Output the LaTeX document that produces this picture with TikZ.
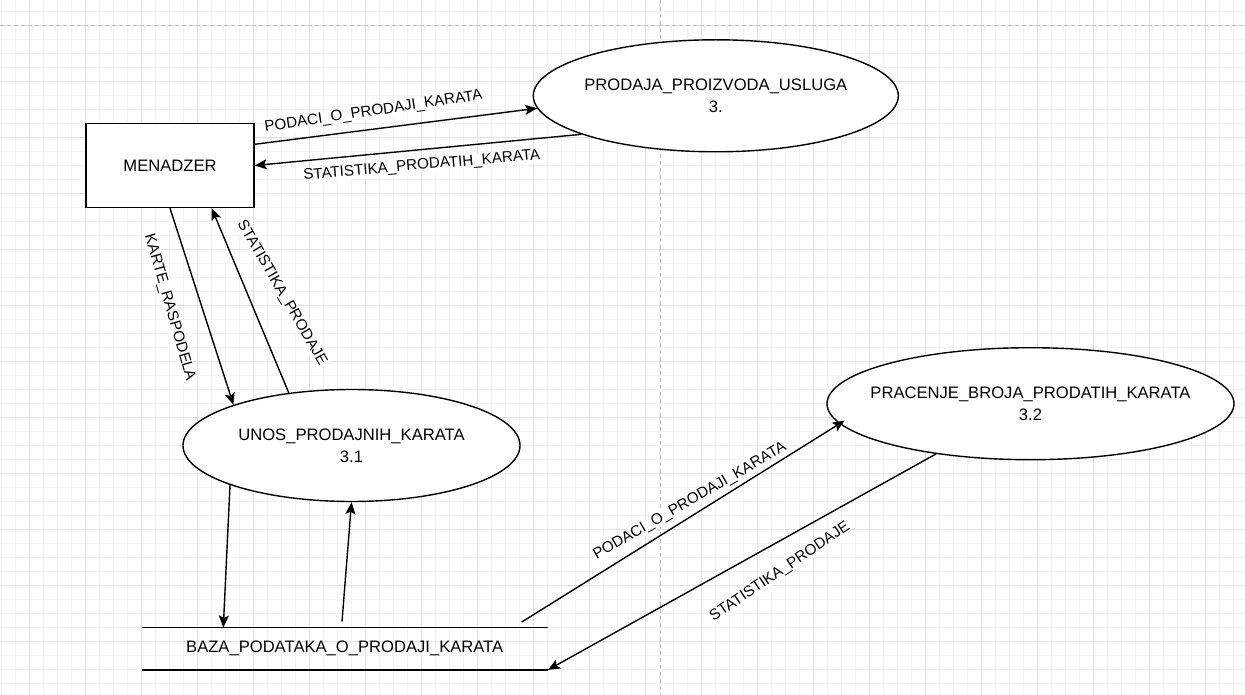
\documentclass[tikz,border=0pt]{standalone}
\usepackage{fontspec}
\setmainfont{Liberation Sans}
\usetikzlibrary{shapes.geometric,arrows.meta}
\definecolor{majorgrid}{HTML}{E0E0E0}
\definecolor{minorgrid}{HTML}{F3F3F3}
\definecolor{pagedash}{HTML}{BDBDBD}
\newcommand{\nodefont}{\fontsize{16.6}{21.7}\selectfont}
\newcommand{\edgefont}{\fontsize{15.2}{18}\selectfont}
\begin{document}
\begin{tikzpicture}[x=1pt,y=-1pt,
  proc/.style={draw, line width=1.4pt, ellipse, inner sep=0pt, minimum width=#1, minimum height=112pt, fill=white},
  ptext/.style={align=center, font=\nodefont, inner sep=0pt},
  flow/.style={line width=1.4pt, -{Stealth[length=12pt,width=10pt,inset=2.5pt]}},
  elabel/.style={font=\edgefont, fill=white, inner sep=0.5pt},
  minorline/.style={draw=minorgrid, line width=1pt},
  majorline/.style={draw=majorgrid, line width=1pt},
  pageline/.style={draw=pagedash, line width=1pt, dash pattern=on 4pt off 3pt}]
\useasboundingbox (0,0) rectangle (1245,695);
\fill[white] (0,0) rectangle (1245,695);
% grid
\foreach \i in {0,...,88} \draw[minorline] ({1.3+14*\i},0) -- ({1.3+14*\i},695);
\foreach \i in {0,...,48} \draw[minorline] (0,{11.3+14*\i}) -- (1245,{11.3+14*\i});
\foreach \i in {0,...,21} \draw[majorline] ({29.3+56*\i},0) -- ({29.3+56*\i},695);
\foreach \i in {0,...,11} \draw[majorline] (0,{25.3+56*\i}) -- (1245,{25.3+56*\i});
\draw[pageline] (0,25.3) -- (1245,25.3);
\draw[pageline] (660,0) -- (660,695);

% nodes
\node[draw, line width=1.4pt, fill=white, minimum width=168pt, minimum height=84pt, inner sep=0pt, font=\nodefont] (menadzer) at (170,165.5) {MENADZER};

\node[proc=365pt] (prodaja) at (715.8,95.8) {};
\node[ptext] (prodajaText) at (prodaja) {PRODAJA\_PROIZVODA\_USLUGA\\3.};

\node[proc=337pt] (unos) at (351.5,445.5) {};
\node[ptext] (unosText) at (unos) {UNOS\_PRODAJNIH\_KARATA\\3.1};

\node[proc=407pt] (pracenje) at (1030.5,403.7) {};
\node[ptext] (pracenjeText) at (pracenje) {PRACENJE\_BROJA\_PRODATIH\_KARATA\\3.2};

\node[minimum width=406pt, minimum height=42pt, inner sep=0pt, font=\nodefont] (baza) at (344.7,648.7) {BAZA\_PODATAKA\_O\_PRODAJI\_KARATA};
\draw[line width=1.4pt] (baza.north west) -- (baza.north east);
\draw[line width=1.4pt] (baza.south west) -- (baza.south east);

% connectors
\draw[flow] ([yshift=21.2pt]menadzer.east) -- (prodaja.184.2);
\draw[flow] (prodaja.196.1) -- (menadzer.east);
\draw[flow] (menadzer.south) -- (unos.161);
\draw[flow] (unos.140.3) -- ([xshift=41.7pt]menadzer.south);
\draw[flow] (unos.198.4) -- ([xshift=-121.4pt]baza.north);
\draw[flow] ([xshift=-2.7pt,yshift=6pt]baza.north) -- (unos.south);
\draw[flow, shorten >=-6pt] ([xshift=-26.3pt,yshift=5.4pt]baza.north east) -- (pracenje.186.6);
\draw[flow] (pracenje.208.75) -- (baza.south east);

% connector labels
\node[elabel, rotate=8.5] (l1) at (373.5,111.8) {PODACI\_O\_PRODAJI\_KARATA};
\node[elabel, rotate=5] (l2) at (421.8,165.8) {STATISTIKA\_PRODATIH\_KARATA};
\node[elabel, rotate=-74] (l3) at (169.5,307.7) {KARTE\_RASPODELA};
\node[elabel, rotate=-60] (l4) at (281.7,293) {STATISTIKA\_PRODAJE};
\node[elabel, rotate=30] (l5) at (690,501.5) {PODACI\_O\_PRODAJI\_KARATA};
\node[elabel, rotate=34] (l6) at (780,572) {STATISTIKA\_PRODAJE};
\end{tikzpicture}
\end{document}
